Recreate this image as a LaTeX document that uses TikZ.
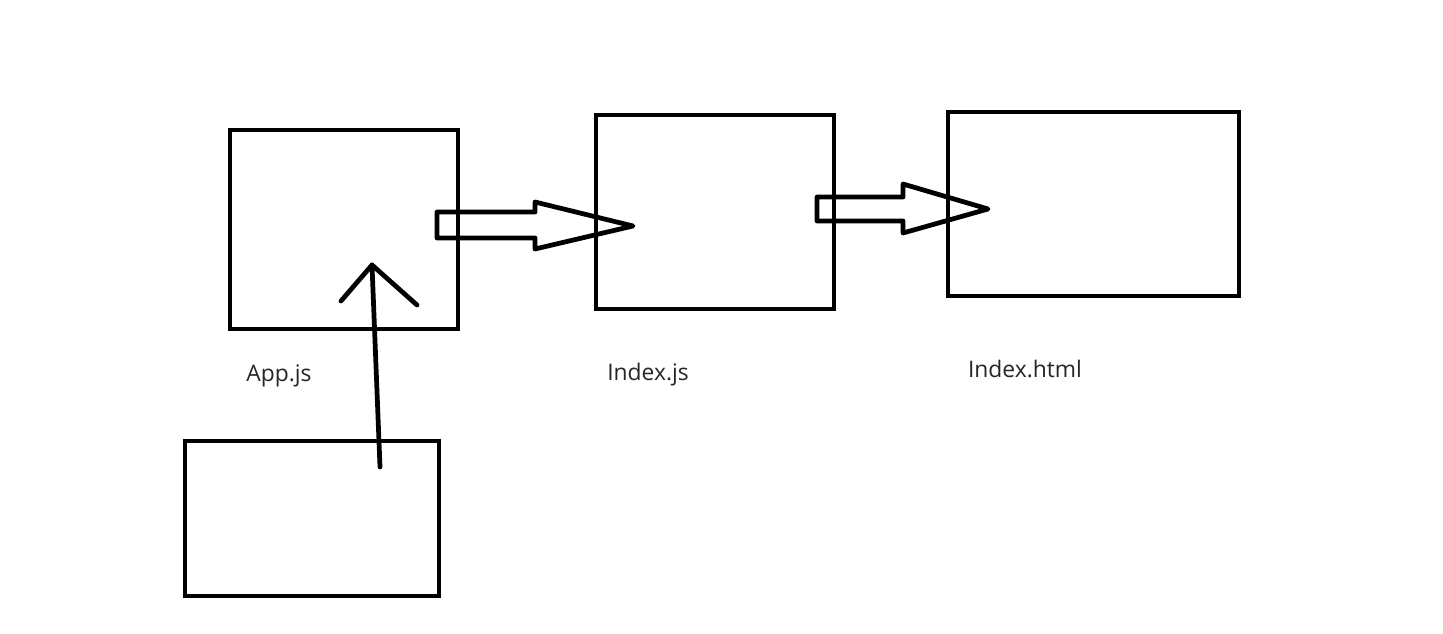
\documentclass[tikz,border=0pt]{standalone}
\usepackage{fontspec}
\setmainfont{Open Sans}
\usetikzlibrary{calc}

\tikzset{
  filebox/.style={draw, line width=2.7pt, minimum width=#1, inner sep=0pt},
  filelabel/.style={text=black!85, font=\fontsize{13}{15}\selectfont},
  ink/.style={line width=2.7pt, line join=round}
}

\begin{document}
\begin{tikzpicture}
    \useasboundingbox (0,0) rectangle (28.86,12.66);

    % Boxes
    \node[filebox=4.56cm, minimum height=3.98cm] (app) at (6.88,8.07) {};
    \node[filebox=4.76cm, minimum height=3.88cm] (indexjs) at (14.30,8.42) {};
    \node[filebox=5.82cm, minimum height=3.68cm] (indexhtml) at (21.87,8.58) {};
    \node[filebox=5.08cm, minimum height=3.10cm] (comp) at (6.24,2.29) {};

    % Labels
    \node[filelabel] (applbl) at (5.58,5.15) {App.js};
    \node[filelabel] (indexjslbl) at (12.96,5.17) {Index.js};
    \node[filelabel] (indexhtmllbl) at (20.50,5.28) {Index.html};

    % App.js -> Index.js
    \coordinate (a1) at (8.74,8.14);
    \coordinate (a1tip) at (12.66,8.14);
    \draw[ink] ($(a1)+(0,0.28)$) -- (10.70,8.42) -- (10.70,8.62) -- (a1tip)
      -- (10.70,7.68) -- (10.70,7.90) -- ($(a1)+(0,-0.24)$) -- cycle;

    % Index.js -> Index.html
    \coordinate (a2) at (16.34,8.48);
    \coordinate (a2tip) at (19.76,8.48);
    \draw[ink] ($(a2)+(0,0.24)$) -- (18.06,8.72) -- (18.06,8.98) -- (a2tip)
      -- (18.06,8.00) -- (18.06,8.24) -- ($(a2)+(0,-0.24)$) -- cycle;

    % bottom box up into App.js
    \coordinate (ctail) at (7.60,3.32);
    \coordinate (ctip) at (7.44,7.36);
    \draw[ink, line cap=round] (ctail) -- (ctip);
    \draw[ink, line cap=round] (6.82,6.64) -- (ctip) -- (8.34,6.56);
\end{tikzpicture}
\end{document}
